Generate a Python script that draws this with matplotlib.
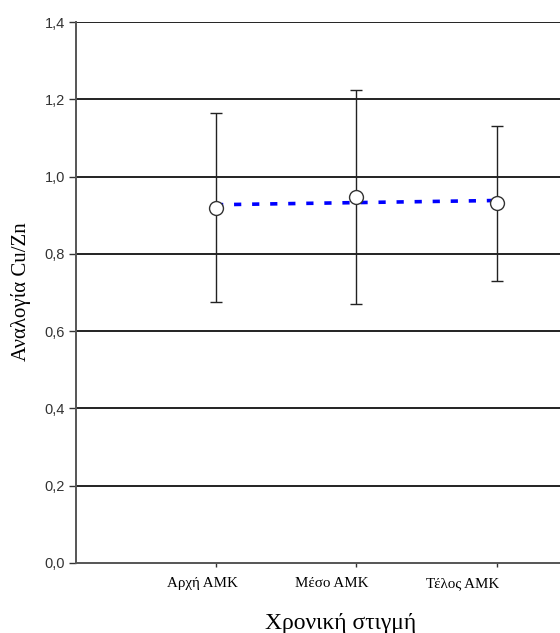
import matplotlib.pyplot as plt
import numpy as np
from matplotlib.ticker import FixedLocator, FuncFormatter

# Cu/Zn ratio at three time points (mean +/- SD)
categories = ['Αρχή ΑΜΚ', 'Μέσο ΑΜΚ', 'Τέλος ΑΜΚ']
means = [0.920, 0.947, 0.931]
sds = [0.245, 0.277, 0.200]

x = np.arange(1, len(categories) + 1)


def comma_fmt(v, pos):
    return f'{v:.1f}'.replace('.', ',')


fig = plt.figure(figsize=(5.6, 6.33), dpi=100)
ax = fig.add_axes([0.135, 0.1106, 0.865, 0.8546])

# horizontal grid
for yv in np.arange(0.2, 1.41, 0.2):
    ax.axhline(yv, color='#222222', lw=1.4, zorder=1)

ax.errorbar(x, means, yerr=sds, fmt='none', ecolor='#222222', elinewidth=1.0,
            capsize=4, capthick=1.0, zorder=2)

# linear trend through the means
coef = np.polyfit(x, means, 1)
ax.plot(x, np.polyval(coef, x), color='#0000ff', lw=2.6, ls=(0, (2.0, 3.0)),
        zorder=3)

ax.plot(x, means, 'o', ms=10, mfc='white', mec='#333333', mew=1.0, zorder=4)

ax.set_xlim(0, 3.45)
ax.set_ylim(0, 1.4)

ax.spines['top'].set_visible(False)
ax.spines['right'].set_visible(False)
ax.spines['left'].set_color('#555555')
ax.spines['bottom'].set_color('#555555')
ax.spines['left'].set_linewidth(1.4)
ax.spines['bottom'].set_linewidth(1.4)

ax.set_yticks(np.arange(0, 1.41, 0.2))
ax.yaxis.set_major_formatter(FuncFormatter(comma_fmt))
ax.tick_params(axis='y', length=5, width=1, color='#333333', labelsize=10.5,
               labelcolor='#333333', pad=2.5)
for lab in ax.get_yticklabels():
    lab.set_family('Liberation Sans')

# tick marks at the data, labels sit slightly to the left
ax.xaxis.set_major_locator(FixedLocator(x))
ax.xaxis.set_major_formatter(FuncFormatter(lambda v, p: ''))
ax.xaxis.set_minor_locator(FixedLocator([0.90, 1.826, 2.758]))
ax.xaxis.set_minor_formatter(FuncFormatter(lambda v, p: categories[p]))
ax.tick_params(axis='x', which='major', length=3, width=1, color='#333333')
ax.tick_params(axis='x', which='minor', length=0, pad=10, labelsize=10.8)
for lab in ax.xaxis.get_minorticklabels():
    lab.set_family('Liberation Serif')

ax.set_xlabel('Χρονική στιγμή', family='Liberation Serif', fontsize=17)
ax.xaxis.set_label_coords(0.548, -0.092)
ax.set_ylabel('Αναλογία Cu/Zn', family='Liberation Serif', fontsize=15)
ax.yaxis.set_label_coords(-0.092, 0.502)

fig.savefig('out.png', dpi=100)
